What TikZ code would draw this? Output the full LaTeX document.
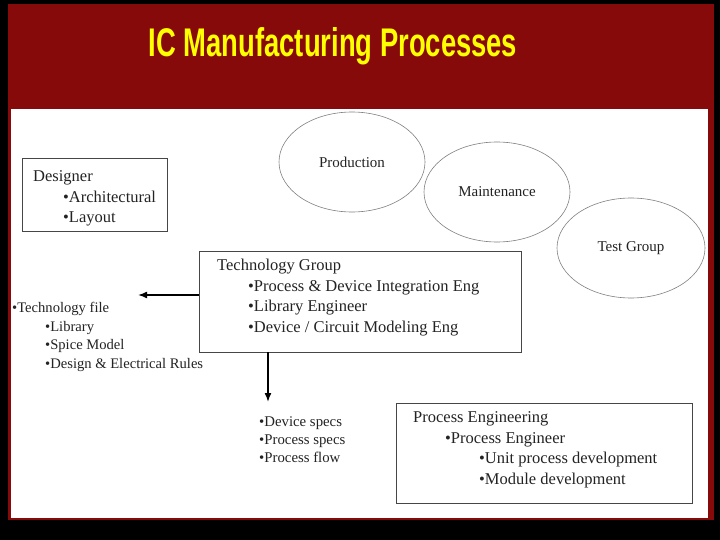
\documentclass[tikz,border=0pt]{standalone}
\usepackage{fontspec}
\setmainfont{Liberation Serif}
\newfontfamily\titlefont{Liberation Sans}
\usepackage{xcolor}
\definecolor{boardred}{RGB}{135,10,10}
\definecolor{titleyellow}{RGB}{255,255,0}
\definecolor{inkgray}{RGB}{35,35,35}
\definecolor{linegray}{RGB}{70,70,70}
\usepackage{tikz}
\usetikzlibrary{positioning}
\usetikzlibrary{arrows,arrows.meta,shapes}
\usetikzlibrary{calc}

\begin{document}
\begin{tikzpicture}[x=1pt,y=-1pt,
  every node/.style={text=inkgray,inner sep=0pt},
  groupbox/.style={draw=linegray,line width=0.8pt},
  oval/.style={ellipse,draw=gray,line width=0.6pt,minimum width=146pt,minimum height=100pt,font=\fontsize{15}{18}\selectfont},
  boxtext/.style={align=left,anchor=base west,font=\fontsize{16.5}{20.5}\selectfont},
  listtext/.style={align=left,anchor=base west,font=\fontsize{14.6}{18.4}\selectfont},
  flow/.style={-{Latex[length=9pt,width=7pt]},line width=1.6pt,black}]
\useasboundingbox (0,0) rectangle (720,540);
% board background and white panel
\fill[black] (0,0) rectangle (720,540);
\fill[boardred] (8,4) rectangle (714,520);
\fill[white] (11,109) rectangle (708,518);
\node (title) [anchor=base,text=titleyellow] at (333,57) {\scalebox{0.685}[1]{\fontsize{40}{40}\titlefont\bfseries IC Manufacturing Processes}};
% groups (text nodes sit on the baseline of their last line)
\node[oval] (production) at (352,162) {Production};
\node[oval] (maintenance) at (497,192) {Maintenance};
\node[oval,minimum width=148pt] (testgroup) at (631,248) {Test Group};
\node[groupbox,minimum width=145pt,minimum height=73pt] (designer) at (94.5,194.5) {};
\node[boxtext] (designertext) at (33,222.5) {Designer\\\hspace*{30pt}•Architectural\\\hspace*{30pt}•Layout};
\node[groupbox,minimum width=322pt,minimum height=101pt] (techgroup) at (360,301.5) {};
\node[boxtext] (techtext) at (217,332) {Technology Group\\\hspace*{31pt}•Process \& Device Integration Eng\\\hspace*{31pt}•Library Engineer\\\hspace*{31pt}•Device / Circuit Modeling Eng};
\node[groupbox,minimum width=296pt,minimum height=100pt] (proceng) at (544,453) {};
\node[boxtext] (procengtext) at (413,484) {Process Engineering\\\hspace*{32pt}•Process Engineer\\\hspace*{66pt}•Unit process development\\\hspace*{66pt}•Module development};
% outputs of the technology group
\coordinate (techfilehead) at (138,295);
\coordinate (specshead) at (268,402);
\node[listtext] (techfile) at (12,368) {•Technology file\\\hspace*{33pt}•Library\\\hspace*{33pt}•Spice Model\\\hspace*{33pt}•Design \& Electrical Rules};
\node[listtext,font=\fontsize{14.8}{18}\selectfont] (specs) at (259,462.5) {•Device specs\\•Process specs\\•Process flow};
\draw[flow] (techgroup.west |- techfilehead) -- (techfilehead);
\draw[flow] (techgroup.south -| specshead) -- (specshead);
\end{tikzpicture}
\end{document}
